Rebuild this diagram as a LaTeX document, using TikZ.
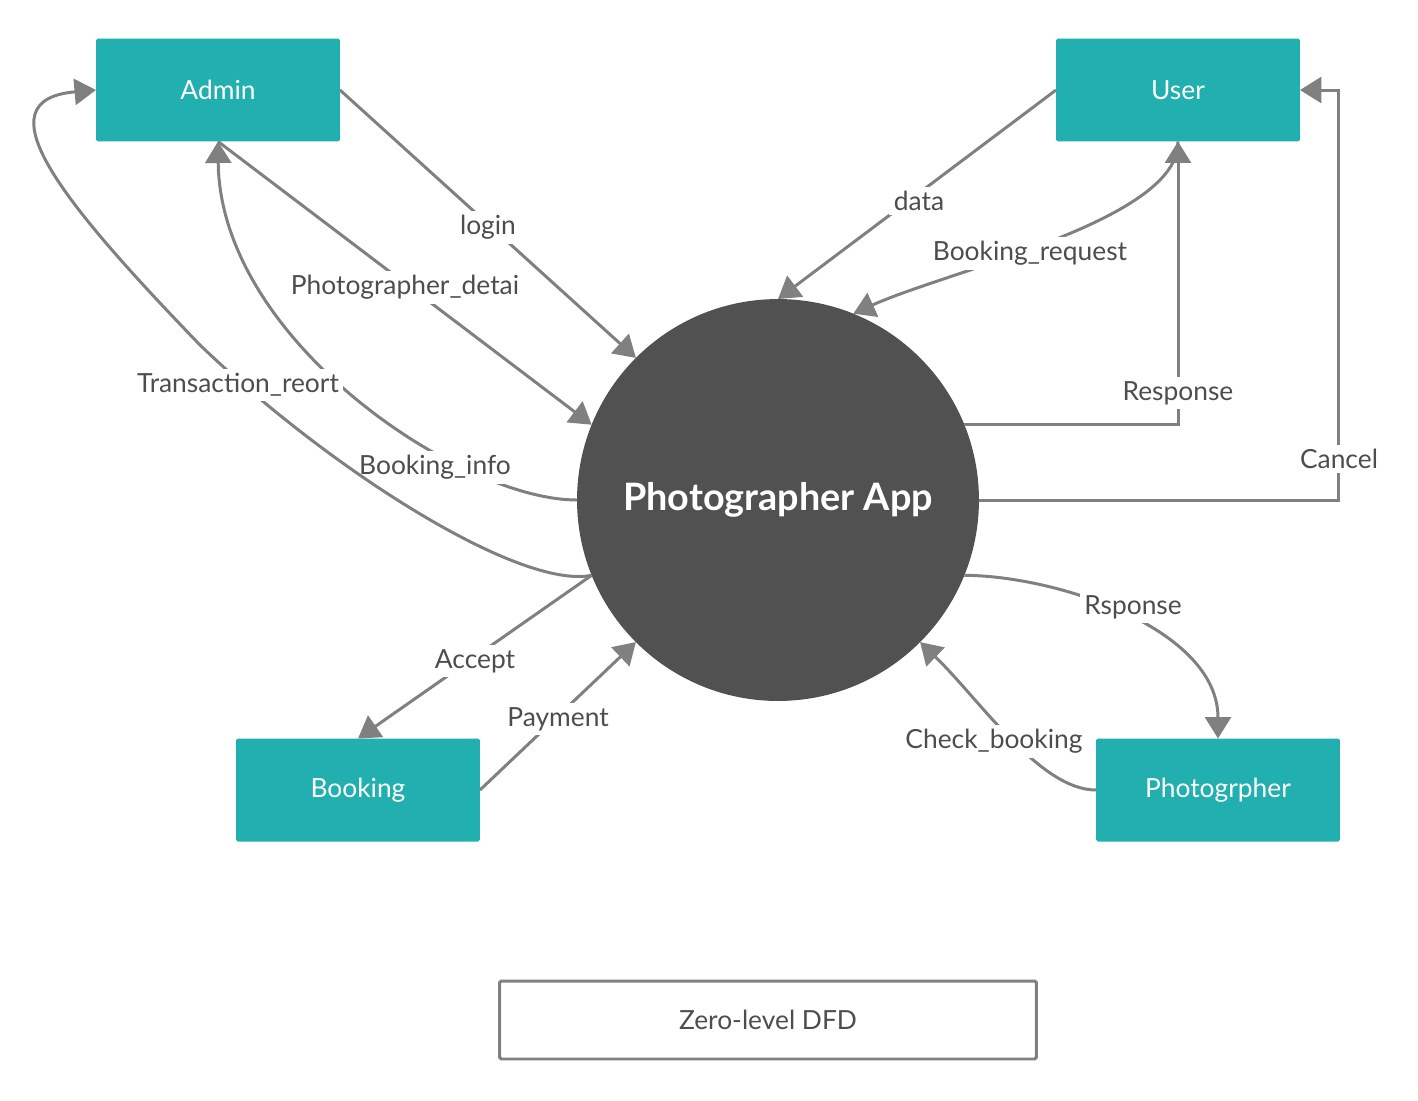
\documentclass[tikz,border=0pt]{standalone}
\usepackage{fontspec}
\setmainfont{Lato}
\usetikzlibrary{arrows.meta,positioning}
\definecolor{tealbox}{HTML}{22AFAF}
\definecolor{appgray}{HTML}{515151}
\definecolor{flowgray}{HTML}{808080}
\definecolor{textgray}{HTML}{4D4D4D}

\tikzset{
  entity/.style={fill=tealbox, text=white, minimum width=4.88cm, minimum height=2.06cm,
    rounded corners=1pt, inner sep=0pt, outer sep=0pt, font=\fontsize{15}{18}\selectfont},
  flow/.style={draw=flowgray, line width=1.7pt, -{Triangle[length=0.43cm,width=0.52cm]}},
  lbl/.style={fill=white, text=textgray, inner sep=2.5pt, font=\fontsize{15}{18}\selectfont},
}

\begin{document}
\begin{tikzpicture}[x=0.02cm,y=-0.02cm]
	\useasboundingbox (0,0) rectangle (1418,1100);
	
	% process and external entities
	\node[circle, fill=appgray, minimum size=8.04cm, inner sep=0pt, outer sep=0pt,
	  text=white, font=\fontsize{21.5}{26}\selectfont\bfseries] (app) at (778,500) {Photographer App};
	\node[entity] (admin) at (218,90) {Admin};
	\node[entity] (user) at (1178,90) {User};
	\node[entity] (booking) at (358,790) {Booking};
	\node[entity] (photog) at (1218,790) {Photogrpher};
	\coordinate (cancelturn) at (1338,90);
	
	% admin side
	\draw[flow] (admin.east) -- (app.135) node[lbl] at (488,227) {login};
	\draw[flow] (admin.south) -- (app.158) node[lbl] at (405,287) {Photographer\_detai};
	\draw[flow] (app.180) .. controls (460,500) and (220,340) .. (admin.south)
	  node[lbl] at (435,467) {Booking\_info};
	\draw[flow] (app.202) .. controls (520,590) and (330,470) .. (200,345)
	  .. controls (60,200) and (-20,100) .. (admin.west)
	  node[lbl] at (238,385) {Transaction\_reort};
	
	% user side
	\draw[flow] (user.west) -- (app.90) node[lbl] at (919,201) {data};
	\draw[flow] (user.south) .. controls (1180,220) and (950,270) .. (app.68)
	  node[lbl] at (1030,253) {Booking\_request};
	\draw[flow] (app.22) -| (user.south) node[lbl] at (1178,393) {Response};
	\draw[flow] (app.0) -| (cancelturn) -- (user.east) node[lbl] at (1339,459) {Cancel};
	
	% booking and photographer
	\draw[flow] (app.202) -- (booking.north) node[lbl] at (475,661) {Accept};
	\draw[flow] (booking.east) -- (app.225) node[lbl] at (558,719) {Payment};
	\draw[flow] (app.338) .. controls (1060,576) and (1218,630) .. (photog.north)
	  node[lbl] at (1133,607) {Rsponse};
	\draw[flow] (photog.west) .. controls (1040,790) and (980,700) .. (app.315)
	  node[lbl] at (994,741) {Check\_booking};
	
	% caption
	\node[draw=flowgray, line width=1.7pt, rounded corners=1pt, minimum width=10.74cm,
	  minimum height=1.56cm, text=textgray, font=\fontsize{15}{18}\selectfont]
	  (caption) at (768,1020) {Zero-level DFD};
\end{tikzpicture}
\end{document}
